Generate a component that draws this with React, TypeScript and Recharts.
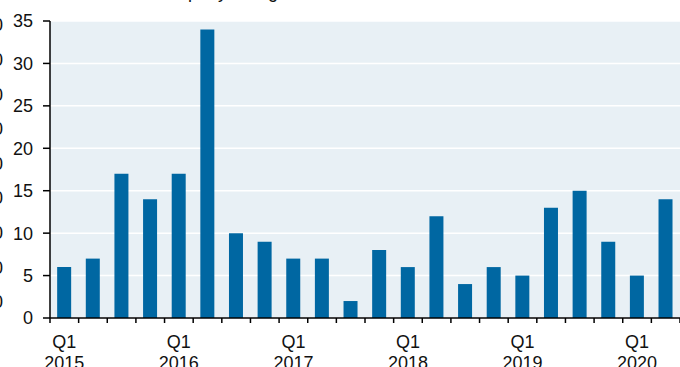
import { BarChart, Bar, XAxis, YAxis, CartesianGrid } from 'recharts'

const quarters = [
  '2015Q1', '2015Q2', '2015Q3', '2015Q4',
  '2016Q1', '2016Q2', '2016Q3', '2016Q4',
  '2017Q1', '2017Q2', '2017Q3', '2017Q4',
  '2018Q1', '2018Q2', '2018Q3', '2018Q4',
  '2019Q1', '2019Q2', '2019Q3', '2019Q4',
  '2020Q1', '2020Q2',
]
const listings = [6, 7, 17, 14, 17, 34, 10, 9, 7, 7, 2, 8, 6, 12, 4, 6, 5, 13, 15, 9, 5, 14]
const yTicks = [0, 5, 10, 15, 20, 25, 30, 35]
// labels of the neighbouring panel, cut off at the left edge
const neighbourTicks = ['80', '70', '60', '50', '40', '30', '20', '10', '0']

const WIDTH = 680
const HEIGHT = 367
const LEFT = 50
const FONT = '"Liberation Sans", Arial, sans-serif'

const data = quarters.map((q, i) => ({ quarter: q, value: listings[i] }))
const step = (WIDTH - LEFT) / quarters.length

function QuarterTick({ x, y, payload, index }: any) {
  const q = String(payload.value)
  const isQ1 = q.endsWith('Q1')
  return (
    <g>
      <line x1={x - step / 2} x2={x - step / 2} y1={y} y2={y + 5} stroke="#000" strokeWidth={1.5} />
      {index === quarters.length - 1 && (
        <line x1={x + step / 2} x2={x + step / 2} y1={y} y2={y + 5} stroke="#000" strokeWidth={1.5} />
      )}
      {isQ1 && (
        <text x={x} y={y} textAnchor="middle" fontSize={18} fontFamily={FONT} fill="#111">
          <tspan x={x} dy={30}>Q1</tspan>
          <tspan x={x} dy={21}>{q.slice(0, 4)}</tspan>
        </text>
      )}
    </g>
  )
}

export default function App() {
  return (
    <div style={{ position: 'absolute', left: 0, top: 0, width: WIDTH, height: HEIGHT, overflow: 'hidden' }}>
      <BarChart
        width={WIDTH}
        height={HEIGHT}
        data={data}
        margin={{ top: 21, right: 0, bottom: 0, left: 0 }}
        barCategoryGap="25%"
      >
        <CartesianGrid vertical={false} fill="#e8f0f5" stroke="#ffffff" strokeWidth={1.5} />
        <XAxis
          dataKey="quarter"
          height={49}
          interval={0}
          tickSize={0}
          tickMargin={0}
          tickLine={false}
          axisLine={{ stroke: '#000', strokeWidth: 1.5 }}
          tick={<QuarterTick />}
        />
        <YAxis
          width={LEFT}
          domain={[0, 35]}
          ticks={yTicks}
          interval={0}
          tickSize={7}
          tickMargin={10}
          axisLine={{ stroke: '#000', strokeWidth: 1.5 }}
          tickLine={{ stroke: '#000', strokeWidth: 1.5 }}
          tick={{ fontSize: 18, fontFamily: FONT, fill: '#111' }}
        />
        <Bar dataKey="value" fill="#0067a2" isAnimationActive={false} />
      </BarChart>
      <svg
        width={WIDTH}
        height={HEIGHT}
        style={{ position: 'absolute', left: 0, top: 0, pointerEvents: 'none' }}
      >
        <text x={113} y={-2} fontSize={18} fontFamily={FONT} fill="#111">
          New company listings
        </text>
        {neighbourTicks.map((t, i) => (
          <text
            key={t}
            x={3}
            y={25 + i * 34.6}
            dy="0.35em"
            textAnchor="end"
            fontSize={18}
            fontFamily={FONT}
            fill="#111"
          >
            {t}
          </text>
        ))}
      </svg>
    </div>
  )
}
